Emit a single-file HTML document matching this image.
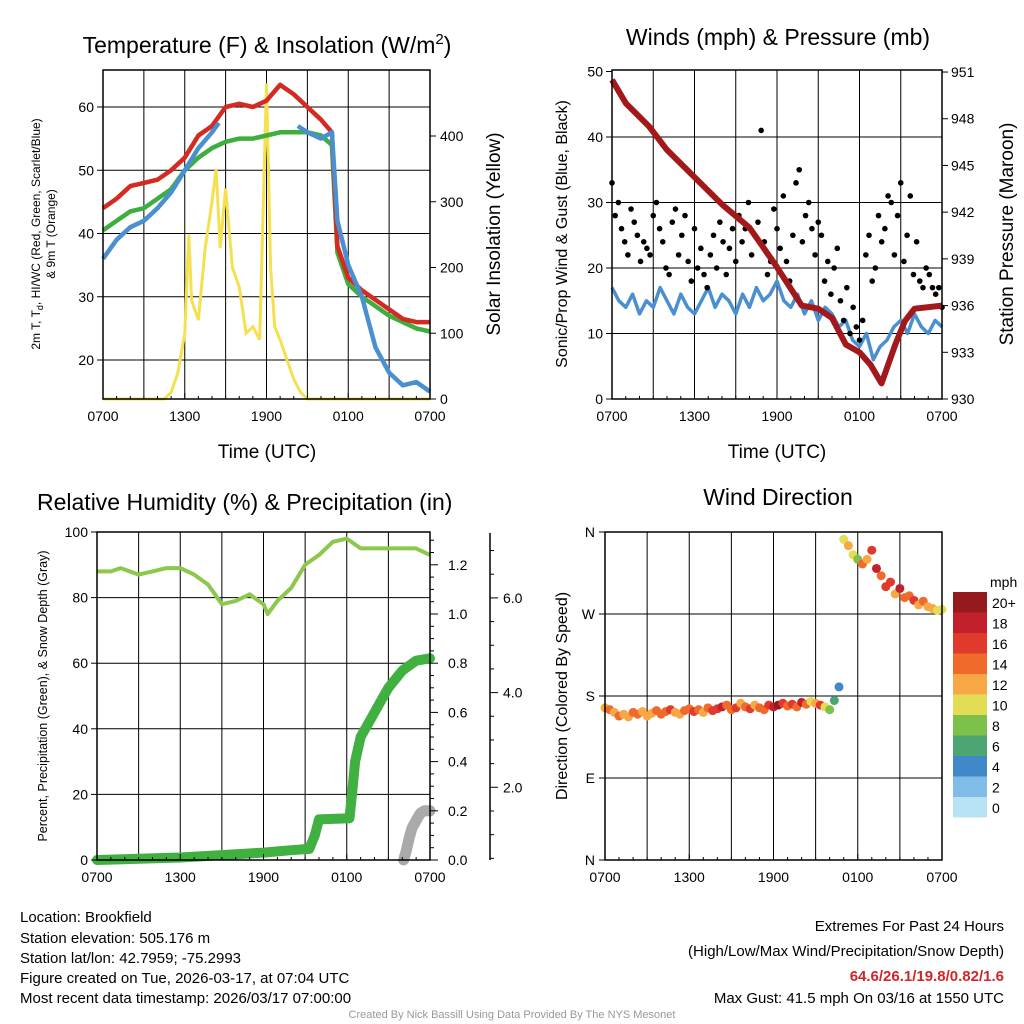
<!DOCTYPE html>
<html><head><meta charset="utf-8"><style>
body{margin:0;background:#fff;}
svg{display:block;font-family:"Liberation Sans",sans-serif;}
</style></head><body>
<svg id="svg" width="1024" height="1024" viewBox="0 0 1024 1024">
<rect width="1024" height="1024" fill="#fff"/>
<g id="g1"></g>
<g id="g2"></g>
<g id="g3"></g>
<g id="g4"></g>
<text x="267" y="53" font-size="23" text-anchor="middle">Temperature (F) &amp; Insolation (W/m<tspan dy="-9" font-size="15">2</tspan><tspan dy="9">)</tspan></text>
<text x="778" y="45" font-size="23" text-anchor="middle">Winds (mph) &amp; Pressure (mb)</text>
<text x="37" y="510" font-size="23">Relative Humidity (%) &amp; Precipitation (in)</text>
<text x="778" y="505" font-size="23" text-anchor="middle">Wind Direction</text>
<g font-size="15">
<text x="20" y="922">Location: Brookfield</text>
<text x="20" y="943">Station elevation: 505.176 m</text>
<text x="20" y="963">Station lat/lon: 42.7959; -75.2993</text>
<text x="20" y="983">Figure created on Tue, 2026-03-17, at 07:04 UTC</text>
<text x="20" y="1003">Most recent data timestamp: 2026/03/17 07:00:00</text>
</g>
<g font-size="15" text-anchor="end">
<text x="1004" y="931">Extremes For Past 24 Hours</text>
<text x="1004" y="956">(High/Low/Max Wind/Precipitation/Snow Depth)</text>
<text x="1004" y="981" fill="#d0262a" font-weight="bold">64.6/26.1/19.8/0.82/1.6</text>
<text x="1004" y="1003">Max Gust: 41.5 mph On 03/16 at 1550 UTC</text>
</g>
<text x="512" y="1018" font-size="11" fill="#999" text-anchor="middle">Created By Nick Bassill Using Data Provided By The NYS Mesonet</text>
</svg>
<script>
// ---- Data ----
const xLabels=["0700","1300","1900","0100","0700"];
const tempT=[0,1,2,3,4,5,6,7,8,9,10,11,12,13,14,15,16,16.8,17.2,18,19,20,21,22,23,24];
const tempRed=[44,45.5,47.5,48,48.5,50,52,55.5,57,60,60.5,60,61,63.5,62,60,58,56,38,33,31,29.5,28,26.5,26,26];
const tempGreen=[40.5,42,43.5,44,45.5,47,50,52,53.5,54.5,55,55,55.5,56,56,56,55.5,54,37,32,30,28.5,27,26,25,24.5];
const blueT=[0,1,2,3,4,5,6,7,8,8.5,null,14.3,15,16,16.8,17.2,18,19,20,21,22,23,24];
const tempBlue=[36,39,41,42,44,46.5,50,53.5,56,57.5,null,57,56,55,56,42,35,30,22,18,16,16.5,15];
const solT=[0,4.5,5,5.5,6,6.3,6.5,7,7.5,8,8.3,8.6,9,9.5,10,10.5,11,11.5,12,12.3,12.6,13,13.5,14,14.5,15,24];
const solar=[0,0,10,40,100,250,150,120,230,300,350,230,320,200,170,100,110,90,480,200,110,90,60,30,10,0,0];
const tempTicks=[20,30,40,50,60];
const solarTicks=[0,100,200,300,400];
const presT=[0,1,2.7,4,6.4,8,10,11.9,13.8,15,16,17,18,18.8,19.6,20.6,21.3,22,24];
const pressure=[950.5,949,947.5,946,943.9,942.5,941,938.6,936,935.8,935.2,933.5,933,932.2,931,933.5,935,935.8,936];
const windSpeed=[17,15,14,16,13,15,14,17,15,13,16,14,13,15,17,14,16,15,13,16,14,17,15,16,18,15,14,16,13,15,12,14,13,11,12,9,8,10,6,8,9,11,12,10,13,11,10,12,11];
const gusts=[33,28,30,26,24,22,29,27,25,21,24,23,22,28,30,26,24,20,19,27,29,22,25,28,21,18,26,20,23,19,17,22,25,20,27,24,19,23,26,21,28,24,26,30,22,25,27,41,24,19,21,29,26,23,31,21,18,25,33,35,24,28,30,26,22,27,25,18,21,16,20,23,15,12,17,10,14,11,9,12,22,25,18,20,28,24,26,31,30,22,28,33,21,25,31,19,24,18,17,20,19,17,16,17,14];
const windTicks=[0,10,20,30,40,50];
const presTicks=[930,933,936,939,942,945,948,951];
const rhT=[0,1,1.7,3,4,5,6,7,8,9,10,11,12,12.3,13,14,15,16,17,18,19,20,21,22,23,24];
const rh=[88,88,89,87,88,89,89,87,84,78,79,81,78,75,79,83,90,93,97,98,95,95,95,95,95,93];
const precT=[0,3,6,9,12,14,15.3,15.7,16,18.2,18.4,18.6,19,19.5,20,20.5,21,22,23,24];
const precip=[0,0.005,0.01,0.02,0.03,0.04,0.045,0.1,0.165,0.17,0.28,0.4,0.5,0.55,0.6,0.65,0.7,0.77,0.81,0.82];
const snowT=[22.1,22.3,22.5,22.7,23,23.3,23.6,24];
const snow=[0,0.04,0.09,0.13,0.16,0.19,0.2,0.2];
const rhTicks=[0,20,40,60,80,100];
const precTicks=["0.0","0.2","0.4","0.6","0.8","1.0","1.2"];
const snowTicks=["2.0","4.0","6.0"];
const dirs=[167,165,162,158,160,157,162,160,163,158,161,164,160,163,165,162,160,164,166,163,165,162,167,164,166,168,170,165,167,172,168,166,170,167,165,170,168,170,172,169,171,168,173,171,174,172,170,168,165,175,190,352,345,335,330,325,330,340,320,312,300,305,292,298,288,290,285,280,284,278,276,274,275];
const dirSpeeds=[12,14,13,14,12,13,15,14,13,12,13,14,15,14,16,13,12,14,15,17,14,13,15,16,16,18,14,15,17,13,15,16,12,14,15,17,18,20,16,15,17,14,18,15,11,13,17,10,8,6,4,10,12,11,9,15,13,16,18,14,16,17,13,18,15,14,16,12,15,13,12,11,10];
const dirLabels=["N","W","S","E","N"];
const cbLabels=["20+","18","16","14","12","10","8","6","4","2","0"];
const cbColors=["#951a1e","#c2202a","#e03a2c","#f06a2c","#f7a845","#e3dc55","#7dc04a","#4da574","#3f89c8","#7fbde8","#b8e3f5"];

const NS="http://www.w3.org/2000/svg";
function mk(p,tag,at,txt){const e=document.createElementNS(NS,tag);for(const k in at)e.setAttribute(k,at[k]);if(txt!==undefined)e.textContent=txt;p.appendChild(e);return e;}
function pathD(ts,vs,fx,fy){let d="",m=true;for(let i=0;i<ts.length;i++){if(ts[i]===null){m=true;continue;}d+=(m?"M":"L")+fx(ts[i]).toFixed(1)+","+fy(vs[i]).toFixed(1);m=false;}return d;}
function frame(g,x0,x1,y0,y1,gridY,gridXs){
  gridY.forEach(y=>{const l=mk(g,"line",{x1:x0,x2:x1,y1:y,y2:y,stroke:"#000","stroke-width":1});});
  gridXs.forEach(x=>{const l=mk(g,"line",{x1:x,x2:x,y1:y0,y2:y1,stroke:"#000","stroke-width":1});});
}
function border(g,x0,x1,y0,y1){const r=mk(g,"rect",{x:x0,y:y0,width:x1-x0,height:y1-y0,fill:"none",stroke:"#000","stroke-width":1.5});}
function xAxis(g,x0,x1,y1,fx){
  for(let h=0;h<=24;h++){const x=fx(h);mk(g,"line",{x1:x,x2:x,y1:y1,y2:y1-(h%6==0?6:3),stroke:"#000"});}
  xLabels.forEach((s,i)=>{const t=mk(g,"text",{x:fx(i*6),y:y1+22,"font-size":14,"text-anchor":"middle"},s);});
}
// ---------- Panel 1 ----------
(function(){
const g=document.getElementById("g1");const x0=103,x1=430,y0=70,y1=399;
const fx=t=>x0+t*(x1-x0)/24;const fy=v=>360-(v-20)*6.325;const fs=v=>399-v*0.6575;
const gx=[];for(let h=3;h<24;h+=3)gx.push(fx(h));
frame(g,x0,x1,y0,y1,tempTicks.map(fy),gx);
const p1=mk(g,"path",{d:pathD(solT,solar,fx,fs),fill:"none",stroke:"#f5e050","stroke-width":3});
const p2=mk(g,"path",{d:pathD(tempT,tempGreen,fx,fy),fill:"none",stroke:"#3eae3e","stroke-width":4.5,"stroke-linejoin":"round"});
const p3=mk(g,"path",{d:pathD(tempT,tempRed,fx,fy),fill:"none",stroke:"#d42a22","stroke-width":4.5,"stroke-linejoin":"round"});
const p4=mk(g,"path",{d:pathD(blueT,tempBlue,fx,fy),fill:"none",stroke:"#4a90d0","stroke-width":4.5,"stroke-linejoin":"round"});
border(g,x0,x1,y0,y1);xAxis(g,x0,x1,y1,fx);
tempTicks.forEach(v=>{mk(g,"line",{x1:x0-6,x2:x0,y1:fy(v),y2:fy(v),stroke:"#000"});const t=mk(g,"text",{x:x0-9,y:fy(v)+5,"font-size":14,"text-anchor":"end"},v);});
solarTicks.forEach(v=>{mk(g,"line",{x1:x1,x2:x1+6,y1:fs(v),y2:fs(v),stroke:"#000"});const t=mk(g,"text",{x:x1+10,y:fs(v)+5,"font-size":14},v);});
const xt=mk(g,"text",{x:267,y:458,"font-size":19,"text-anchor":"middle"},"Time (UTC)");
const yt=mk(g,"text",{transform:"translate(40,234) rotate(-90)","font-size":12,"text-anchor":"middle"});
yt.innerHTML='2m T, T<tspan dy="3" font-size="9">d</tspan><tspan dy="-3">, HI/WC (Red, Green, Scarlet/Blue)</tspan>';
const yt2=mk(g,"text",{transform:"translate(55,234) rotate(-90)","font-size":12,"text-anchor":"middle"},"& 9m T (Orange)");
const yt3=mk(g,"text",{transform:"translate(500,234) rotate(-90)","font-size":19,"text-anchor":"middle"},"Solar Insolation (Yellow)");
})();
// ---------- Panel 2 ----------
(function(){
const g=document.getElementById("g2");const x0=612,x1=942,y0=70,y1=399;
const fx=t=>x0+t*(x1-x0)/24;const fy=v=>399-v*6.55;const fp=v=>399-(v-930)*15.57;
const gx=[];for(let h=3;h<24;h+=3)gx.push(fx(h));
frame(g,x0,x1,y0,y1,[10,20,30,40].map(fy),gx);
const wt=windSpeed.map((_,i)=>i*0.5);
const p=mk(g,"path",{d:pathD(wt,windSpeed,fx,fy),fill:"none",stroke:"#4a90d0","stroke-width":3.5,"stroke-linejoin":"round"});
gusts.forEach((v,i)=>{const c=mk(g,"circle",{cx:fx(i*24/(gusts.length-1)),cy:fy(v),r:2.8,fill:"#000"});});
const pp=mk(g,"path",{d:pathD(presT,pressure,fx,fp),fill:"none",stroke:"#a3191b","stroke-width":6,"stroke-linejoin":"round"});
border(g,x0,x1,y0,y1);xAxis(g,x0,x1,y1,fx);
windTicks.forEach(v=>{mk(g,"line",{x1:x0-6,x2:x0,y1:fy(v),y2:fy(v),stroke:"#000"});const t=mk(g,"text",{x:x0-9,y:fy(v)+5,"font-size":14,"text-anchor":"end"},v);});
presTicks.forEach(v=>{mk(g,"line",{x1:x1,x2:x1+6,y1:fp(v),y2:fp(v),stroke:"#000"});const t=mk(g,"text",{x:x1+9,y:fp(v)+5,"font-size":14},v);});
const xt=mk(g,"text",{x:777,y:458,"font-size":19,"text-anchor":"middle"},"Time (UTC)");
const yt=mk(g,"text",{transform:"translate(567,234) rotate(-90)","font-size":16,"text-anchor":"middle"},"Sonic/Prop Wind & Gust (Blue, Black)");
const yt2=mk(g,"text",{transform:"translate(1013,234) rotate(-90)","font-size":19,"text-anchor":"middle"},"Station Pressure (Maroon)");
})();
// ---------- Panel 3 ----------
(function(){
const g=document.getElementById("g3");const x0=97,x1=430,y0=532,y1=860;
const fx=t=>x0+t*(x1-x0)/24;const fy=v=>860-v*3.28;const fpr=v=>860-v*246;const fsn=v=>882-v*47.35;
const gx=[];for(let h=3;h<24;h+=3)gx.push(fx(h));
frame(g,x0,x1,y0,y1,[20,40,60,80].map(fy),gx);
const p=mk(g,"path",{d:pathD(rhT,rh,fx,fy),fill:"none",stroke:"#8cc84b","stroke-width":4,"stroke-linejoin":"round"});
const ps=mk(g,"path",{d:pathD(snowT,snow,fx,fpr),fill:"none",stroke:"#aaa","stroke-width":11,"stroke-linecap":"round","stroke-linejoin":"round"});
const pr=mk(g,"path",{d:pathD(precT,precip,fx,fpr),fill:"none",stroke:"#40b040","stroke-width":10,"stroke-linecap":"round","stroke-linejoin":"round"});
border(g,x0,x1,y0,y1);xAxis(g,x0,x1,y1,fx);
rhTicks.forEach(v=>{mk(g,"line",{x1:x0-6,x2:x0,y1:fy(v),y2:fy(v),stroke:"#000"});const t=mk(g,"text",{x:x0-9,y:fy(v)+5,"font-size":14,"text-anchor":"end"},v);});
for(let i=0;i<=26;i++){const y=fpr(i*0.05);mk(g,"line",{x1:x1,x2:x1+(i%4==0?8:4),y1:y,y2:y,stroke:"#000"});}
precTicks.forEach(s=>{const t=mk(g,"text",{x:x1+18,y:fpr(parseFloat(s))+5,"font-size":14},s);});
mk(g,"line",{x1:490,x2:490,y1:533,y2:860,stroke:"#000","stroke-width":1.5});
for(let i=1;i<=14;i++){const y=fsn(i*0.5);if(y<533)continue;mk(g,"line",{x1:490,x2:490+(i%4==0?8:4),y1:y,y2:y,stroke:"#000"});}
snowTicks.forEach(s=>{const t=mk(g,"text",{x:503,y:fsn(parseFloat(s))+5,"font-size":14},s);});
const yt=mk(g,"text",{transform:"translate(47,696) rotate(-90)","font-size":12.5,"text-anchor":"middle"},"Percent, Precipitation (Green), & Snow Depth (Gray)");
})();
// ---------- Panel 4 ----------
(function(){
const g=document.getElementById("g4");const x0=605,x1=942,y0=532,y1=860;
const fx=t=>x0+t*(x1-x0)/24;const fy=d=>860-d*328/360;
const gx=[];for(let h=3;h<24;h+=3)gx.push(fx(h));
frame(g,x0,x1,y0,y1,[90,180,270].map(fy),gx);
function col(s){let i=Math.min(10,Math.floor(s/2));return cbColors[10-i];}
dirs.forEach((d,i)=>{const c=mk(g,"circle",{cx:fx(i*24/(dirs.length-1)),cy:fy(d),r:4.5,fill:col(dirSpeeds[i])});});
border(g,x0,x1,y0,y1);xAxis(g,x0,x1,y1,fx);
dirLabels.forEach((s,i)=>{const y=532+i*82;mk(g,"line",{x1:x0-6,x2:x0,y1:y,y2:y,stroke:"#000"});const t=mk(g,"text",{x:x0-10,y:y+5,"font-size":14,"text-anchor":"end"},s);});
const yt=mk(g,"text",{transform:"translate(567,696) rotate(-90)","font-size":16,"text-anchor":"middle"},"Direction (Colored By Speed)");
const ct=mk(g,"text",{x:990,y:587,"font-size":14},"mph");
cbColors.forEach((c,i)=>{const r=mk(g,"rect",{x:953,y:592+i*20.5,width:34,height:20.5,fill:c});
const t=mk(g,"text",{x:992,y:592+i*20.5+16,"font-size":14},cbLabels[i]);});
})();
</script>
</body></html>
